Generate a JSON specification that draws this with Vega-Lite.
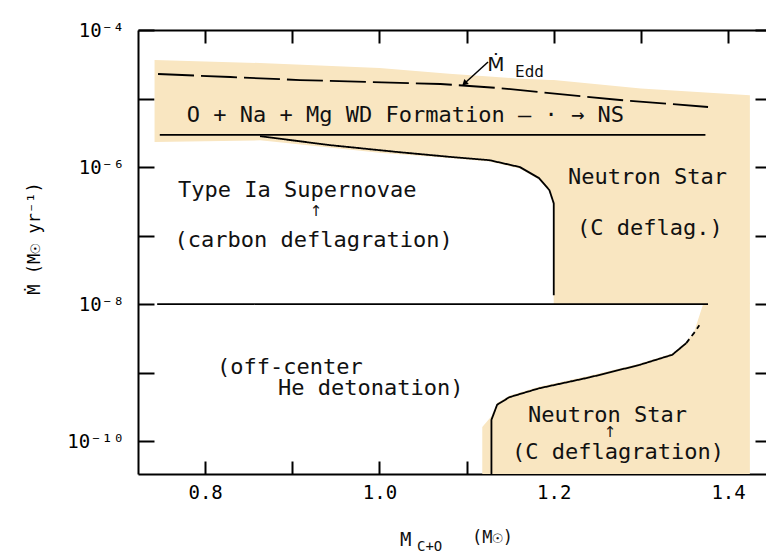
{
  "$schema": "https://vega.github.io/schema/vega-lite/v6.json",
  "width": 628,
  "height": 444,
  "autosize": {"type": "none"},
  "padding": {"left": 138, "top": 30, "right": 0, "bottom": 81},
  "background": "white",
  "config": {
    "view": {"stroke": null},
    "axis": {
      "grid": false,
      "domainColor": "black",
      "tickColor": "black",
      "labelColor": "black",
      "titleColor": "black",
      "domainWidth": 2,
      "tickWidth": 2,
      "labelFont": "DejaVu Sans Mono",
      "titleFont": "DejaVu Sans Mono",
      "titleFontWeight": "normal",
      "labelFlush": false,
      "labelOverlap": false
    }
  },
  "datasets": {
    "shadeTop": [
      {"x": 0.742, "lo": 2.32e-6, "hi": 3.65e-5},
      {"x": 0.863, "lo": 2.45e-6, "hi": 3.3e-5},
      {"x": 1.0, "lo": 1.62e-6, "hi": 2.79e-5},
      {"x": 1.08, "lo": 1.35e-6, "hi": 2.3e-5},
      {"x": 1.126, "lo": 1.2e-6, "hi": 2.1e-5},
      {"x": 1.161, "lo": 9.5e-7, "hi": 1.95e-5},
      {"x": 1.183, "lo": 6.6e-7, "hi": 1.9e-5},
      {"x": 1.195, "lo": 4.4e-7, "hi": 1.87e-5},
      {"x": 1.199, "lo": 2.9e-7, "hi": 1.86e-5},
      {"x": 1.2, "lo": 1e-8, "hi": 1.86e-5},
      {"x": 1.3, "lo": 1e-8, "hi": 1.4e-5},
      {"x": 1.425, "lo": 1e-8, "hi": 1.12e-5}
    ],
    "shadeBottom": [
      {"x": 1.118, "lo": 3.31e-11, "hi": 1.6e-10},
      {"x": 1.1285, "lo": 3.31e-11, "hi": 2.3e-10},
      {"x": 1.135, "lo": 3.31e-11, "hi": 3.6e-10},
      {"x": 1.149, "lo": 3.31e-11, "hi": 4.6e-10},
      {"x": 1.183, "lo": 3.31e-11, "hi": 6.2e-10},
      {"x": 1.241, "lo": 3.31e-11, "hi": 9.0e-10},
      {"x": 1.298, "lo": 3.31e-11, "hi": 1.35e-9},
      {"x": 1.336, "lo": 3.31e-11, "hi": 1.9e-9},
      {"x": 1.352, "lo": 3.31e-11, "hi": 2.8e-9},
      {"x": 1.361, "lo": 3.31e-11, "hi": 3.9e-9},
      {"x": 1.372, "lo": 3.31e-11, "hi": 1.05e-8},
      {"x": 1.425, "lo": 3.31e-11, "hi": 1.05e-8}
    ],
    "lines": [
      {"s": "edd", "d": "long", "i": 0, "x": 0.746, "y": 2.28e-5},
      {"s": "edd", "d": "long", "i": 1, "x": 0.829, "y": 2.06e-5},
      {"s": "edd", "d": "long", "i": 2, "x": 0.909, "y": 1.86e-5},
      {"s": "edd", "d": "long", "i": 3, "x": 0.989, "y": 1.74e-5},
      {"s": "edd", "d": "long", "i": 4, "x": 1.07, "y": 1.63e-5},
      {"s": "edd", "d": "long", "i": 5, "x": 1.138, "y": 1.42e-5},
      {"s": "edd", "d": "long", "i": 6, "x": 1.207, "y": 1.16e-5},
      {"s": "edd", "d": "long", "i": 7, "x": 1.276, "y": 9.51e-6},
      {"s": "edd", "d": "long", "i": 8, "x": 1.377, "y": 7.52e-6},
      {"s": "h1", "d": "solid", "i": 0, "x": 0.748, "y": 2.95e-6},
      {"s": "h1", "d": "solid", "i": 1, "x": 1.374, "y": 2.95e-6},
      {"s": "upper", "d": "solid", "i": 0, "x": 0.863, "y": 2.82e-6},
      {"s": "upper", "d": "solid", "i": 1, "x": 0.943, "y": 2.09e-6},
      {"s": "upper", "d": "solid", "i": 2, "x": 1.02, "y": 1.66e-6},
      {"s": "upper", "d": "solid", "i": 3, "x": 1.08, "y": 1.41e-6},
      {"s": "upper", "d": "solid", "i": 4, "x": 1.126, "y": 1.26e-6},
      {"s": "upper", "d": "solid", "i": 5, "x": 1.161, "y": 1.0e-6},
      {"s": "upper", "d": "solid", "i": 6, "x": 1.183, "y": 6.9e-7},
      {"s": "upper", "d": "solid", "i": 7, "x": 1.195, "y": 4.6e-7},
      {"s": "upper", "d": "solid", "i": 8, "x": 1.2, "y": 2.95e-7},
      {"s": "upper", "d": "solid", "i": 9, "x": 1.2, "y": 1.35e-8},
      {"s": "h2", "d": "solid", "i": 0, "x": 0.745, "y": 1e-8},
      {"s": "h2", "d": "solid", "i": 1, "x": 1.377, "y": 1e-8},
      {"s": "lower", "d": "solid", "i": 0, "x": 1.1285, "y": 3.31e-11},
      {"s": "lower", "d": "solid", "i": 1, "x": 1.1285, "y": 2.04e-10},
      {"s": "lower", "d": "solid", "i": 2, "x": 1.135, "y": 3.39e-10},
      {"s": "lower", "d": "solid", "i": 3, "x": 1.149, "y": 4.37e-10},
      {"s": "lower", "d": "solid", "i": 4, "x": 1.183, "y": 5.89e-10},
      {"s": "lower", "d": "solid", "i": 5, "x": 1.241, "y": 8.51e-10},
      {"s": "lower", "d": "solid", "i": 6, "x": 1.298, "y": 1.29e-9},
      {"s": "lower", "d": "solid", "i": 7, "x": 1.336, "y": 1.82e-9},
      {"s": "lower", "d": "solid", "i": 8, "x": 1.352, "y": 2.69e-9},
      {"s": "lowerDash", "d": "short", "i": 0, "x": 1.352, "y": 2.69e-9},
      {"s": "lowerDash", "d": "short", "i": 1, "x": 1.361, "y": 3.8e-9},
      {"s": "lowerDash", "d": "short", "i": 2, "x": 1.367, "y": 4.9e-9}
    ],
    "labels": [
      {"t": "O + Na + Mg WD Formation — · →  NS", "x": 0.779, "y": 5.74e-6},
      {"t": "Type Ia Supernovae", "x": 0.769, "y": 4.61e-7},
      {"t": "(carbon deflagration)", "x": 0.765, "y": 8.59e-8},
      {"t": "(off-center", "x": 0.8136, "y": 1.2e-9},
      {"t": "He detonation)", "x": 0.8836, "y": 5.94e-10},
      {"t": "Neutron Star", "x": 1.2163, "y": 7.15e-7},
      {"t": "(C deflag.)", "x": 1.2266, "y": 1.29e-7},
      {"t": "Neutron Star", "x": 1.1705, "y": 2.4e-10},
      {"t": "(C deflagration)", "x": 1.1521, "y": 6.9e-11}
    ],
    "arrows": [
      {"t": "↑", "x": 0.9272, "y": 2.3e-7},
      {"t": "↑", "x": 1.2645, "y": 1.35e-10}
    ]
  },
  "layer": [
    {
      "data": {"name": "shadeTop"},
      "mark": {"type": "area", "color": "#f9e6c1", "opacity": 1},
      "encoding": {
        "x": {
          "field": "x", "type": "quantitative",
          "scale": {"domain": [0.723, 1.4435], "nice": false, "zero": false},
          "axis": {
            "orient": "bottom",
            "values": [0.8, 0.9, 1.0, 1.1, 1.2, 1.3, 1.4],
            "format": ".1f",
            "labelExpr": "(datum.label == '0.8' || datum.label == '1.0' || datum.label == '1.2' || datum.label == '1.4') ? datum.label : ''",
            "tickSize": -13,
            "labelPadding": 22,
            "labelFontSize": 19,
            "title": null
          }
        },
        "y": {
          "field": "lo", "type": "quantitative",
          "scale": {"type": "log", "domain": [3.31e-11, 1e-4], "nice": false},
          "axis": {
            "orient": "left",
            "values": [1e-10, 1e-9, 1e-8, 1e-7, 1e-6, 1e-5, 1e-4],
            "labelExpr": "round(log(datum.value)/LN10) == -4 ? '10⁻⁴' : round(log(datum.value)/LN10) == -6 ? '10⁻⁶' : round(log(datum.value)/LN10) == -8 ? '10⁻⁸' : round(log(datum.value)/LN10) == -10 ? '10⁻¹⁰' : ''",
            "tickSize": -16,
            "labelPadding": 30,
            "labelFontSize": 19,
            "labelBaseline": "middle",
            "title": "Ṁ (M☉ yr⁻¹)",
            "titleFontSize": 17,
            "titleAngle": -90,
            "titleX": -104,
            "titleY": 208,
            "titleAlign": "center",
            "titleBaseline": "middle"
          }
        },
        "y2": {"field": "hi"}
      }
    },
    {
      "data": {"name": "shadeBottom"},
      "mark": {"type": "area", "color": "#f9e6c1", "opacity": 1},
      "encoding": {
        "x": {"field": "x", "type": "quantitative", "axis": null},
        "y": {"field": "lo", "type": "quantitative", "axis": null},
        "y2": {"field": "hi"}
      }
    },
    {
      "data": {"name": "lines"},
      "mark": {"type": "line", "color": "black", "strokeWidth": 1.8},
      "encoding": {
        "x": {
          "field": "x", "type": "quantitative",
          "axis": {
            "orient": "top",
            "values": [0.8, 0.9, 1.0, 1.1, 1.2, 1.3, 1.4],
            "labels": false,
            "tickSize": -13,
            "title": null
          }
        },
        "y": {
          "field": "y", "type": "quantitative",
          "axis": {
            "orient": "right",
            "values": [1e-10, 1e-9, 1e-8, 1e-7, 1e-6, 1e-5, 1e-4],
            "labels": false,
            "domain": false,
            "tickSize": -11,
            "title": null
          }
        },
        "detail": {"field": "s"},
        "order": {"field": "i"},
        "strokeDash": {
          "field": "d", "type": "nominal",
          "scale": {"domain": ["solid", "long", "short"], "range": [[1, 0], [36, 7], [5, 4]]},
          "legend": null
        }
      }
    },
    {
      "data": {"name": "labels"},
      "mark": {"type": "text", "align": "left", "baseline": "middle", "font": "DejaVu Sans Mono", "fontSize": 22, "color": "#111"},
      "encoding": {
        "x": {"field": "x", "type": "quantitative", "axis": null},
        "y": {"field": "y", "type": "quantitative", "axis": null},
        "text": {"field": "t"}
      }
    },
    {
      "data": {"name": "arrows"},
      "mark": {"type": "text", "align": "center", "baseline": "middle", "font": "DejaVu Sans", "fontSize": 15, "color": "#111"},
      "encoding": {
        "x": {"field": "x", "type": "quantitative", "axis": null},
        "y": {"field": "y", "type": "quantitative", "axis": null},
        "text": {"field": "t"}
      }
    },
    {
      "data": {"values": [{"t": "Ṁ", "x": 1.1337, "y": 3.08e-5}]},
      "mark": {"type": "text", "align": "center", "baseline": "middle", "font": "DejaVu Sans", "fontSize": 20, "color": "#111"},
      "encoding": {
        "x": {"field": "x", "type": "quantitative", "axis": null},
        "y": {"field": "y", "type": "quantitative", "axis": null},
        "text": {"field": "t"}
      }
    },
    {
      "data": {"values": [{"t": "Edd", "x": 1.1556, "y": 2.44e-5}]},
      "mark": {"type": "text", "align": "left", "baseline": "middle", "font": "DejaVu Sans Mono", "fontSize": 16, "color": "#111"},
      "encoding": {
        "x": {"field": "x", "type": "quantitative", "axis": null},
        "y": {"field": "y", "type": "quantitative", "axis": null},
        "text": {"field": "t"}
      }
    },
    {
      "data": {"values": [{"x": 1.1246, "y": 3.41e-5, "x2": 1.0975, "y2": 1.66e-5}]},
      "mark": {"type": "rule", "color": "black", "strokeWidth": 1.5},
      "encoding": {
        "x": {"field": "x", "type": "quantitative", "axis": null},
        "y": {"field": "y", "type": "quantitative", "axis": null},
        "x2": {"field": "x2"},
        "y2": {"field": "y2"}
      }
    },
    {
      "data": {"values": [{"x": 1.0975, "y": 1.66e-5}]},
      "mark": {"type": "point", "shape": "triangle-up", "filled": true, "color": "black", "size": 45, "angle": 228, "opacity": 1},
      "encoding": {
        "x": {"field": "x", "type": "quantitative", "axis": null},
        "y": {"field": "y", "type": "quantitative", "axis": null}
      }
    },
    {
      "data": {"values": [{"t": "M", "x": 1.0236, "y": 3.59e-12}]},
      "mark": {"type": "text", "align": "left", "baseline": "middle", "font": "DejaVu Sans Mono", "fontSize": 19, "color": "#111"},
      "encoding": {
        "x": {"field": "x", "type": "quantitative", "axis": null},
        "y": {"field": "y", "type": "quantitative", "axis": null},
        "text": {"field": "t"}
      }
    },
    {
      "data": {"values": [{"t": "C+O", "x": 1.0431, "y": 2.86e-12}]},
      "mark": {"type": "text", "align": "left", "baseline": "middle", "font": "DejaVu Sans Mono", "fontSize": 14, "color": "#111"},
      "encoding": {
        "x": {"field": "x", "type": "quantitative", "axis": null},
        "y": {"field": "y", "type": "quantitative", "axis": null},
        "text": {"field": "t"}
      }
    },
    {
      "data": {"values": [{"t": "(M☉)", "x": 1.1062, "y": 3.85e-12}]},
      "mark": {"type": "text", "align": "left", "baseline": "middle", "font": "DejaVu Sans Mono", "fontSize": 17, "color": "#111"},
      "encoding": {
        "x": {"field": "x", "type": "quantitative", "axis": null},
        "y": {"field": "y", "type": "quantitative", "axis": null},
        "text": {"field": "t"}
      }
    }
  ]
}
